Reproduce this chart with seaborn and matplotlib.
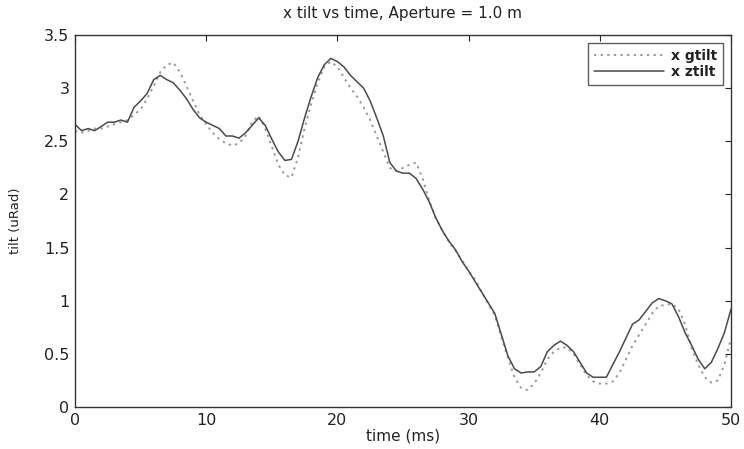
import numpy as np
import pandas as pd
import matplotlib
matplotlib.use("Agg")
import matplotlib.pyplot as plt
import seaborn as sns

time_ms = [i * 0.5 for i in range(101)]

x_ztilt = [2.66, 2.60, 2.62, 2.60, 2.64, 2.68, 2.68, 2.70, 2.68, 2.82,
           2.88, 2.95, 3.08, 3.12, 3.08, 3.05, 2.98, 2.90, 2.80, 2.72,
           2.68, 2.65, 2.62, 2.55, 2.55, 2.53, 2.58, 2.65, 2.72, 2.65,
           2.52, 2.40, 2.32, 2.33, 2.50, 2.72, 2.92, 3.10, 3.22, 3.28,
           3.25, 3.20, 3.12, 3.06, 3.00, 2.88, 2.72, 2.55, 2.30, 2.22,
           2.20, 2.20, 2.15, 2.05, 1.93, 1.78, 1.66, 1.56, 1.48, 1.37,
           1.28, 1.18, 1.08, 0.98, 0.88, 0.68, 0.48, 0.36, 0.32, 0.33,
           0.33, 0.38, 0.52, 0.58, 0.62, 0.58, 0.52, 0.42, 0.32, 0.28,
           0.28, 0.28, 0.40, 0.52, 0.65, 0.78, 0.82, 0.90, 0.98, 1.02,
           1.00, 0.97, 0.85, 0.70, 0.58, 0.45, 0.36, 0.42, 0.55, 0.70,
           0.92]

x_gtilt = [2.60, 2.58, 2.60, 2.62, 2.62, 2.64, 2.66, 2.68, 2.70, 2.75,
           2.80, 2.90, 3.02, 3.15, 3.22, 3.24, 3.15, 3.02, 2.88, 2.75,
           2.66, 2.58, 2.52, 2.48, 2.46, 2.48, 2.55, 2.68, 2.74, 2.62,
           2.45, 2.28, 2.18, 2.16, 2.35, 2.62, 2.85, 3.05, 3.20, 3.25,
           3.20, 3.10, 3.00, 2.92, 2.82, 2.70, 2.55, 2.40, 2.25, 2.22,
           2.25, 2.28, 2.30, 2.15, 1.94, 1.78, 1.66, 1.56, 1.47, 1.38,
           1.28, 1.20, 1.08, 0.97, 0.86, 0.66, 0.46, 0.28, 0.18, 0.16,
           0.22, 0.32, 0.45, 0.52, 0.56, 0.56, 0.50, 0.40, 0.30, 0.24,
           0.22, 0.22, 0.24, 0.32, 0.45, 0.58, 0.68, 0.78, 0.88, 0.95,
           0.96, 0.97, 0.92, 0.78, 0.55, 0.40, 0.28, 0.23, 0.25, 0.40,
           0.65]

series_names = ["x gtilt", "x ztilt"]
x_ticks = [0, 10, 20, 30, 40, 50]
y_ticks = [0, 0.5, 1, 1.5, 2, 2.5, 3, 3.5]
y_tick_labels = ["0", "0.5", "1", "1.5", "2", "2.5", "3", "3.5"]

sns.set_theme(style="white")
plt.rcParams["font.family"] = ["DejaVu Sans"]

df = pd.DataFrame({
    "time": time_ms * 2,
    "tilt": x_gtilt + x_ztilt,
    "series": [series_names[0]] * len(time_ms) + [series_names[1]] * len(time_ms),
})

fig = plt.figure(figsize=(7.44, 4.49), dpi=100)
ax = fig.add_axes([0.1008, 0.0935, 0.8817, 0.8285])

sns.lineplot(data=df[df.series == series_names[0]], x="time", y="tilt", ax=ax,
             color="#9a9a9a", linestyle=(0, (1.2, 2.2)), linewidth=1.4,
             label=series_names[0])
sns.lineplot(data=df[df.series == series_names[1]], x="time", y="tilt", ax=ax,
             color="#4a4a4a", linestyle="-", linewidth=1.1,
             label=series_names[1])

ax.set_xlim(0, 50)
ax.set_ylim(0, 3.5)
ax.set_xticks(x_ticks)
ax.set_xticklabels([str(t) for t in x_ticks])
ax.set_yticks(y_ticks)
ax.set_yticklabels(y_tick_labels)
ax.tick_params(direction="in", length=4, width=0.8, top=True, right=True,
               labelsize=11.5, colors="#222222", pad=4)
for s in ax.spines.values():
    s.set_color("#333333")
    s.set_linewidth(1.0)

ax.set_title("x tilt vs time, Aperture = 1.0 m", fontsize=11, pad=12, color="#222222")
ax.set_xlabel("time (ms)", fontsize=11, labelpad=1, color="#222222")
ax.set_ylabel("tilt (uRad)", fontsize=9.5, labelpad=16, color="#222222")

leg = ax.legend(loc="upper right", frameon=True, fancybox=False, fontsize=10,
                markerfirst=True, handlelength=5.0, borderaxespad=0.55,
                borderpad=0.45, labelspacing=0.15, handletextpad=0.5)
leg.get_frame().set_edgecolor("#333333")
leg.get_frame().set_linewidth(1.0)
for t in leg.get_texts():
    t.set_fontweight("bold")
    t.set_color("#222222")

fig.savefig("out.png", dpi=100)
